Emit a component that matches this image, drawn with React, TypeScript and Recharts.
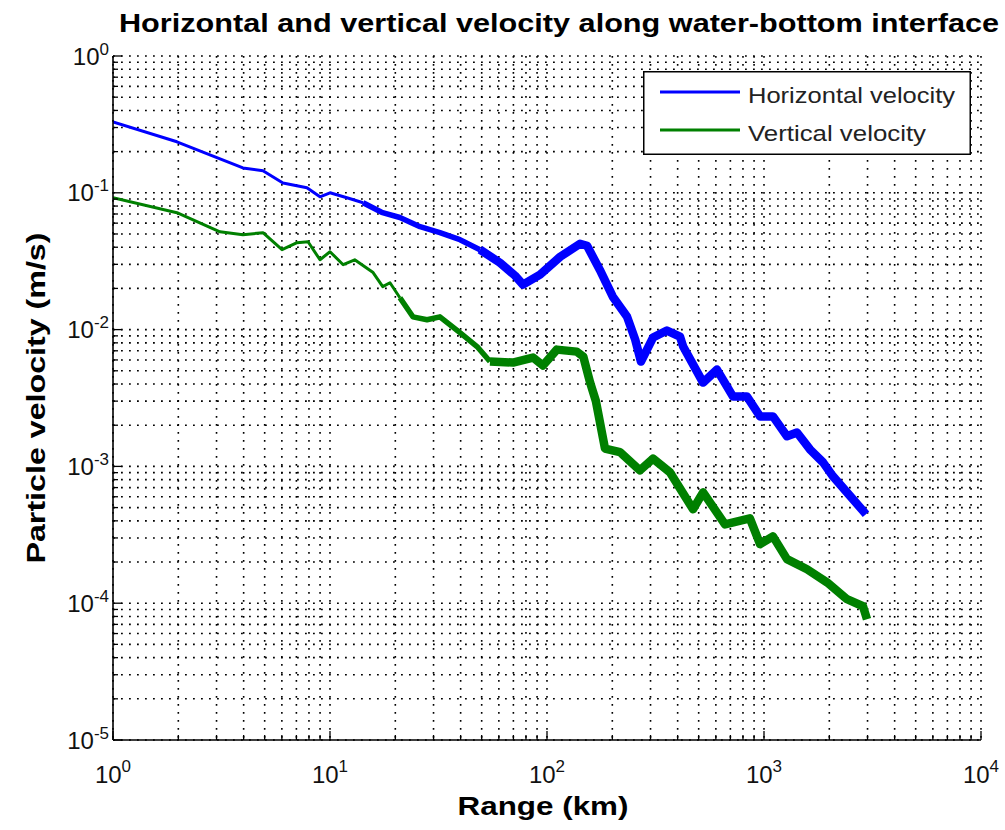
import React from 'react';
import { LineChart, Line, XAxis, YAxis, CartesianGrid, Legend } from 'recharts';

const WIDTH = 1005;
const HEIGHT = 830;
const FONT = '"Liberation Sans", Arial, Helvetica, sans-serif';

// Horizontal particle velocity (m/s) against range (km)
const horizontalRange = [
  1, 1.97, 3.97, 4.91, 6.07, 7.83, 8.99, 10, 12.4, 14.2, 17.3, 21.0, 26.0, 32.1, 39.7, 49.1,
  60.7, 71.2, 77.5, 92.9, 115, 142, 153, 175, 201, 234, 255, 271, 308, 357, 410, 424, 524,
  607, 720, 835, 959, 1100, 1276, 1419, 1629, 1871, 2081, 2412, 2951,
];
const horizontalVelocity = [
  0.33, 0.236, 0.152, 0.145, 0.118, 0.109, 0.0935, 0.1, 0.0904, 0.0845, 0.072, 0.066, 0.0565,
  0.0511, 0.0454, 0.0384, 0.0308, 0.0248, 0.0213, 0.0252, 0.0341, 0.0424, 0.041, 0.0274, 0.0174,
  0.0124, 0.00845, 0.00584, 0.00875, 0.00984, 0.0089, 0.00752, 0.0041, 0.0051, 0.00324, 0.00324,
  0.00232, 0.00232, 0.00166, 0.00177, 0.00133, 0.00107, 0.000845, 0.000646, 0.000447,
];

// Vertical particle velocity (m/s) against range (km)
const verticalRange = [
  1, 1.97, 3.11, 3.97, 4.91, 6.01, 7.05, 7.92, 8.99, 10, 11.5, 13.0, 15.8, 17.5, 18.9, 21.0,
  24.1, 28.0, 32.1, 39.7, 47.6, 54.6, 69.7, 86.2, 95.8, 111, 137, 147, 158, 168, 185, 217, 268,
  308, 369, 471, 524, 661, 861, 959, 1100, 1276, 1578, 1951, 2412, 2858, 2983,
];
const verticalVelocity = [
  0.092, 0.0715, 0.0519, 0.0494, 0.0511, 0.0384, 0.0432, 0.0439, 0.0324, 0.0371, 0.0298, 0.0324,
  0.0261, 0.0206, 0.022, 0.0171, 0.0124, 0.0118, 0.0124, 0.0095, 0.00752, 0.00584, 0.00574,
  0.00625, 0.00546, 0.00714, 0.0069, 0.00635, 0.0041, 0.003, 0.00135, 0.00127, 0.000935, 0.00114,
  0.000904, 0.000486, 0.000646, 0.000377, 0.000417, 0.00027, 0.000308, 0.00021, 0.000177,
  0.000142, 0.000107, 0.000095, 0.0000764,
];

// Range values where the trace gets denser (thicker band)
const horizontalBreaks = [14.2, 49.1];
const verticalBreaks = [21.0, 54.6];
const segmentWidths = [3, 5.5, 8.5];

const xDecades = [1, 10, 100, 1000, 10000];
const yDecades = [1e-5, 1e-4, 1e-3, 1e-2, 1e-1, 1];
const minorSteps = [2, 3, 4, 5, 6, 7, 8, 9];

const BLUE = '#0000ff';
const GREEN = '#008000';

const logTicks = (decades: number[]) => {
  const out: number[] = [];
  decades.forEach((d, i) => {
    out.push(d);
    if (i < decades.length - 1) minorSteps.forEach((m) => out.push(+(m * d).toPrecision(6)));
  });
  return out;
};
const xTicks = logTicks(xDecades);
const yTicks = logTicks(yDecades);

const isDecade = (v: number) => Math.abs(Math.log10(v) - Math.round(Math.log10(v))) < 1e-6;
const expOf = (v: number) => String(Math.round(Math.log10(v)));

const toPoints = (xs: number[], ys: number[]) => xs.map((x, i) => ({ x, y: ys[i] }));

const splitSegments = (pts: { x: number; y: number }[], breaks: number[]) => {
  const bounds = [-Infinity, ...breaks, Infinity];
  return bounds.slice(0, -1).map((lo, i) => pts.filter((p) => p.x >= lo && p.x <= bounds[i + 1]));
};

const horizontalSegments = splitSegments(toPoints(horizontalRange, horizontalVelocity), horizontalBreaks);
const verticalSegments = splitSegments(toPoints(verticalRange, verticalVelocity), verticalBreaks);

const TICK_MAJOR = 9;
const TICK_MINOR = 5;

const BottomTick = (props: any) => {
  const { x, y, payload } = props;
  const v = payload.value;
  const major = isDecade(v);
  return (
    <g>
      <line x1={x} y1={y} x2={x} y2={y - (major ? TICK_MAJOR : TICK_MINOR)} stroke="#000" strokeWidth={1.3} />
      {major && (
        <text x={x} y={y + 43} textAnchor="middle" fontFamily={FONT} fontSize={24} fill="#111">
          10
          <tspan dy={-11} fontSize={17}>{expOf(v)}</tspan>
        </text>
      )}
    </g>
  );
};

const TopTick = (props: any) => {
  const { x, y, payload } = props;
  const major = isDecade(payload.value);
  return <line x1={x} y1={y} x2={x} y2={y + (major ? TICK_MAJOR : TICK_MINOR)} stroke="#000" strokeWidth={1.3} />;
};

const LeftTick = (props: any) => {
  const { x, y, payload } = props;
  const v = payload.value;
  const major = isDecade(v);
  return (
    <g>
      <line x1={x} y1={y} x2={x + (major ? TICK_MAJOR : TICK_MINOR)} y2={y} stroke="#000" strokeWidth={1.3} />
      {major && (
        <text x={x - 4} y={y + 8.5} textAnchor="end" fontFamily={FONT} fontSize={24} fill="#111">
          10
          <tspan dy={-10} fontSize={17}>{expOf(v)}</tspan>
        </text>
      )}
    </g>
  );
};

const RightTick = (props: any) => {
  const { x, y, payload } = props;
  const major = isDecade(payload.value);
  return <line x1={x} y1={y} x2={x - (major ? TICK_MAJOR : TICK_MINOR)} y2={y} stroke="#000" strokeWidth={1.3} />;
};

const legendTextLengths: Record<string, number> = {
  'Horizontal velocity': 207,
  'Vertical velocity': 178,
};

const LegendBox = (props: any) => {
  const items = (props.payload || []).filter((p: any) => p.type !== 'none');
  return (
    <svg width={328} height={84} style={{ display: 'block' }}>
      <rect x={0.75} y={0.75} width={326.5} height={82.5} fill="#fff" stroke="#000" strokeWidth={1.5} />
      {items.map((p: any, i: number) => (
        <g key={p.value}>
          <line x1={17} x2={97} y1={21 + 38 * i} y2={21 + 38 * i} stroke={p.color} strokeWidth={3} />
          <text
            x={105}
            y={32 + 38 * i}
            fontFamily={FONT}
            fontSize={22}
            fill="#222"
            textLength={legendTextLengths[p.value]}
            lengthAdjust="spacingAndGlyphs"
          >
            {p.value}
          </text>
        </g>
      ))}
    </svg>
  );
};

export default function App() {
  return (
    <div style={{ position: 'absolute', left: 0, top: 0, width: WIDTH, height: HEIGHT, background: '#fff' }}>
      <LineChart width={WIDTH} height={HEIGHT} margin={{ top: 56, right: 24, bottom: 0, left: 0 }}>
        <CartesianGrid stroke="#000" strokeWidth={1.6} strokeDasharray="1.8 6.2" />
        <XAxis
          dataKey="x"
          type="number"
          scale="log"
          domain={[1, 10000]}
          allowDataOverflow
          ticks={xTicks}
          interval={0}
          height={90}
          tickSize={0}
          tickMargin={0}
          tickLine={false}
          axisLine={{ stroke: '#000', strokeWidth: 1.6 }}
          tick={BottomTick}
        />
        <XAxis
          xAxisId="top"
          orientation="top"
          dataKey="x"
          type="number"
          scale="log"
          domain={[1, 10000]}
          allowDataOverflow
          ticks={xTicks}
          interval={0}
          height={0}
          tickSize={0}
          tickMargin={0}
          tickLine={false}
          axisLine={{ stroke: '#000', strokeWidth: 1.6 }}
          tick={TopTick}
        />
        <YAxis
          type="number"
          scale="log"
          domain={[1e-5, 1]}
          allowDataOverflow
          ticks={yTicks}
          interval={0}
          width={113}
          tickSize={0}
          tickMargin={0}
          tickLine={false}
          axisLine={{ stroke: '#000', strokeWidth: 1.6 }}
          tick={LeftTick}
        />
        <YAxis
          yAxisId="right"
          orientation="right"
          type="number"
          scale="log"
          domain={[1e-5, 1]}
          allowDataOverflow
          ticks={yTicks}
          interval={0}
          width={0}
          tickSize={0}
          tickMargin={0}
          tickLine={false}
          axisLine={{ stroke: '#000', strokeWidth: 1.6 }}
          tick={RightTick}
        />
        {horizontalSegments.map((seg, i) => (
          <Line
            key={`h${i}`}
            data={seg}
            dataKey="y"
            name="Horizontal velocity"
            type="linear"
            stroke={BLUE}
            strokeWidth={segmentWidths[i]}
            strokeLinejoin="round"
            dot={false}
            legendType={i === 0 ? 'line' : 'none'}
            isAnimationActive={false}
          />
        ))}
        {verticalSegments.map((seg, i) => (
          <Line
            key={`v${i}`}
            data={seg}
            dataKey="y"
            name="Vertical velocity"
            type="linear"
            stroke={GREEN}
            strokeWidth={segmentWidths[i]}
            strokeLinejoin="round"
            dot={false}
            legendType={i === 0 ? 'line' : 'none'}
            isAnimationActive={false}
          />
        ))}
        <Legend
          layout="vertical"
          align="center"
          verticalAlign="middle"
          content={LegendBox}
          wrapperStyle={{ position: 'absolute', left: 643, top: 71, width: 328, height: 84 }}
        />
      </LineChart>
      <svg
        width={WIDTH}
        height={HEIGHT}
        style={{ position: 'absolute', left: 0, top: 0, pointerEvents: 'none' }}
      >
        <text
          x={559}
          y={32}
          textAnchor="middle"
          fontFamily={FONT}
          fontWeight="bold"
          fontSize={25}
          textLength={880}
          lengthAdjust="spacingAndGlyphs"
        >
          Horizontal and vertical velocity along water-bottom interface
        </text>
        <text
          x={543}
          y={815}
          textAnchor="middle"
          fontFamily={FONT}
          fontWeight="bold"
          fontSize={25}
          textLength={171}
          lengthAdjust="spacingAndGlyphs"
        >
          Range (km)
        </text>
        <text
          transform="translate(45 398) rotate(-90)"
          textAnchor="middle"
          fontFamily={FONT}
          fontWeight="bold"
          fontSize={25}
          textLength={331}
          lengthAdjust="spacingAndGlyphs"
        >
          Particle velocity (m/s)
        </text>
      </svg>
    </div>
  );
}
